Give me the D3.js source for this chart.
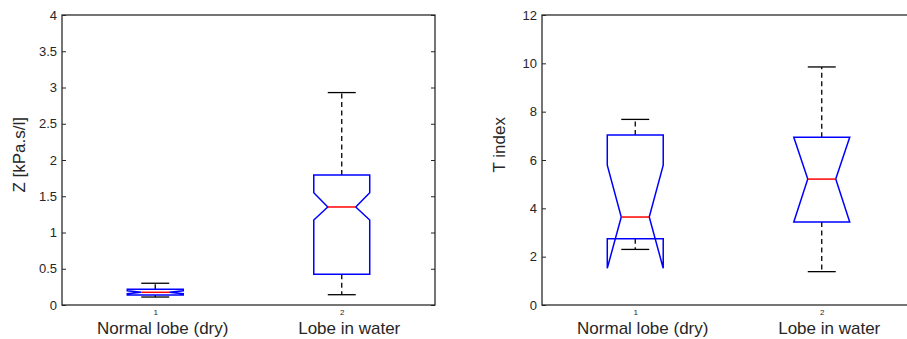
<!DOCTYPE html>
<html>
<head>
<meta charset="utf-8">
<script src="https://cdn.jsdelivr.net/npm/d3@7"></script>
<style>
    body { margin: 0; background: #fff; }
    text { font-family: "Liberation Sans", Arial, sans-serif; fill: #262626; }
</style>
</head>
<body>
<div id="chart"></div>
<script>
// category names under each axes
var categories = ["Normal lobe (dry)", "Lobe in water"];

// left plot: Z [kPa.s/l]  (one entry per category)
var zWhiskerLo = [0.11, 0.142];
var zQ1        = [0.138, 0.423];
var zNotchLo   = [0.155, 1.172];
var zMedian    = [0.175, 1.352];
var zNotchHi   = [0.195, 1.549];
var zQ3        = [0.216, 1.793];
var zWhiskerHi = [0.30, 2.93];
var zTicks     = [0, 0.5, 1, 1.5, 2, 2.5, 3, 3.5, 4];

// right plot: T index
var tWhiskerLo = [2.3, 1.38];
var tQ1        = [2.74, 3.43];
var tNotchLo   = [1.52, 3.43];
var tMedian    = [3.64, 5.21];
var tNotchHi   = [5.79, 6.94];
var tQ3        = [7.03, 6.94];
var tWhiskerHi = [7.68, 9.85];
var tTicks     = [0, 2, 4, 6, 8, 10, 12];

var W = 907, H = 339;

var svg = d3.select("#chart")
            .append("svg")
            .attr("width", W)
            .attr("height", H);

function boxPlot(left, yMax, ticks, yLabel, stats) {
    var top = 15, bottom = 305, axW = 373;

    var xScale = d3.scaleLinear()
                .domain([0.5, 2.5])
                .range([left, left + axW]);

    var yScale = d3.scaleLinear()
                .domain([0, yMax])
                .range([bottom, top]);

    var g = svg.append("g");

    // frame
    g.append("rect")
        .attr("x", left)
        .attr("y", top)
        .attr("width", axW)
        .attr("height", bottom - top)
        .attr("fill", "none")
        .attr("stroke", "#2b2b2b")
        .attr("stroke-width", 1.3);

    // y ticks inside on both sides
    var yAxisL = d3.axisLeft(yScale)
                    .tickValues(ticks)
                    .tickSizeInner(-4)
                    .tickSizeOuter(0)
                    .tickPadding(9)
                    .tickFormat(d3.format("~g"));

    var ga = g.append("g")
        .attr("transform", "translate(" + left + ",0)")
        .call(yAxisL);
    ga.select(".domain").remove();
    ga.selectAll("line").attr("stroke", "#262626");
    ga.selectAll("text")
        .attr("x", -5)
        .style("font-size", "13px")
        .attr("fill", "#262626");

    var yAxisR = d3.axisRight(yScale)
                    .tickValues(ticks)
                    .tickSizeInner(-4)
                    .tickSizeOuter(0)
                    .tickFormat("");
    var gr = g.append("g")
        .attr("transform", "translate(" + (left + axW) + ",0)")
        .call(yAxisR);
    gr.select(".domain").remove();
    gr.selectAll("line").attr("stroke", "#262626");

    // small category numbers under the axis
    var xAxis = d3.axisBottom(xScale)
                    .tickValues([1, 2])
                    .tickSize(0)
                    .tickPadding(4)
                    .tickFormat(d3.format("d"));
    var gx = g.append("g")
        .attr("transform", "translate(0," + bottom + ")")
        .call(xAxis);
    gx.select(".domain").remove();
    gx.selectAll("text")
        .style("font-size", "8px")
        .attr("fill", "#262626");

    // category names
    g.selectAll(".cat")
        .data(categories)
        .enter()
        .append("text")
        .attr("class", "cat")
        .attr("x", function(d, i) { return xScale(i + 1) + 7.5; })
        .attr("y", 334)
        .attr("text-anchor", "middle")
        .style("font-size", "17px")
        .text(function(d) { return d; });

    // y label
    g.append("text")
        .attr("transform", "translate(" + (left - 37) + ",117) rotate(-90)")
        .attr("text-anchor", "end")
        .style("font-size", "17px")
        .text(yLabel);

    var hw = 0.15, cap = 0.075, inset = 0.075;

    categories.forEach(function(c, i) {
        var x = i + 1;

        // whiskers (dashed)
        [[stats.q3[i], stats.wHi[i]], [stats.q1[i], stats.wLo[i]]].forEach(function(p) {
            g.append("line")
                .attr("x1", xScale(x)).attr("x2", xScale(x))
                .attr("y1", yScale(p[0])).attr("y2", yScale(p[1]))
                .attr("stroke", "#000")
                .attr("stroke-width", 1.3)
                .attr("stroke-dasharray", "5,3.5");
        });

        // whisker caps
        [stats.wHi[i], stats.wLo[i]].forEach(function(v) {
            g.append("line")
                .attr("x1", xScale(x - cap)).attr("x2", xScale(x + cap))
                .attr("y1", yScale(v)).attr("y2", yScale(v))
                .attr("stroke", "#000")
                .attr("stroke-width", 1.3);
        });

        // notched box
        var pts = [
            [x - hw, stats.q3[i]],
            [x + hw, stats.q3[i]],
            [x + hw, stats.nHi[i]],
            [x + hw - inset, stats.med[i]],
            [x + hw, stats.nLo[i]],
            [x + hw, stats.q1[i]],
            [x - hw, stats.q1[i]],
            [x - hw, stats.nLo[i]],
            [x - hw + inset, stats.med[i]],
            [x - hw, stats.nHi[i]]
        ];
        var boxLine = d3.line()
                        .x(function(d) { return xScale(d[0]); })
                        .y(function(d) { return yScale(d[1]); })
                        .curve(d3.curveLinearClosed);

        g.append("path")
            .datum(pts)
            .attr("d", boxLine)
            .attr("fill", "none")
            .attr("stroke", "#0000ff")
            .attr("stroke-width", 1.5)
            .attr("stroke-linejoin", "miter");

        // median
        g.append("line")
            .attr("x1", xScale(x - hw + inset)).attr("x2", xScale(x + hw - inset))
            .attr("y1", yScale(stats.med[i])).attr("y2", yScale(stats.med[i]))
            .attr("stroke", "#ff0000")
            .attr("stroke-width", 1.5);
    });
}

boxPlot(62, 4, zTicks, "Z [kPa.s/l]", {
    wLo: zWhiskerLo, q1: zQ1, nLo: zNotchLo, med: zMedian,
    nHi: zNotchHi, q3: zQ3, wHi: zWhiskerHi
});

boxPlot(542, 12, tTicks, "T index", {
    wLo: tWhiskerLo, q1: tQ1, nLo: tNotchLo, med: tMedian,
    nHi: tNotchHi, q3: tQ3, wHi: tWhiskerHi
});
</script>
</body>
</html>
